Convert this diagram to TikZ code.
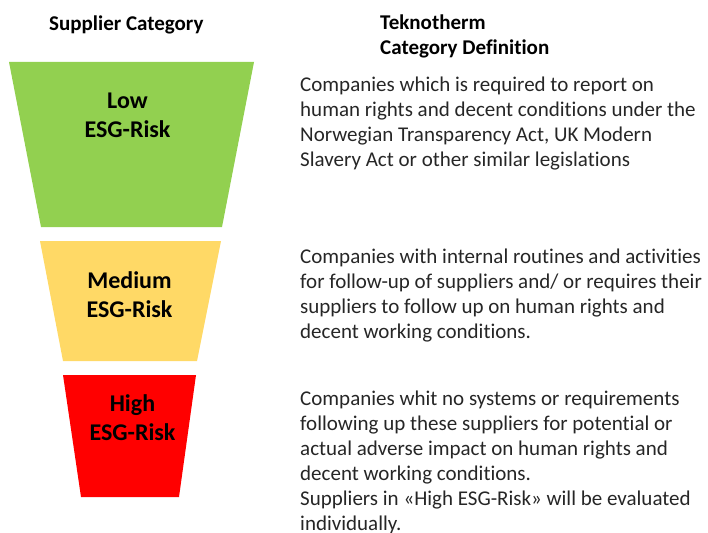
\documentclass[tikz,border=0pt]{standalone}
\usepackage{fontspec}
\setmainfont{Carlito}[Ligatures=NoCommon]
\usepackage{xcolor}
\definecolor{LOWCOLOR}{HTML}{92D050}
\definecolor{MEDCOLOR}{HTML}{FFD966}
\definecolor{HIGHCOLOR}{HTML}{FF0000}
\usetikzlibrary{positioning}
\tikzset{
  head-style/.style = {
    anchor=base west, inner sep=0pt, align=left,
    font=\bfseries\fontsize{21}{25}\selectfont
  },
  level-style/.style = {
    anchor=base, inner sep=0pt, align=center,
    font=\bfseries\fontsize{24}{29}\selectfont
  },
  def-style/.style = {
    anchor=base west, inner sep=0pt, align=left,
    font=\fontsize{21}{25}\selectfont, text=black!85
  },
  band-style/.style = {
    fill=#1
  }
}

\begin{document}
\begin{tikzpicture}[x=1pt,y=-1pt]
    \useasboundingbox (0,0) rectangle (708,532);

    %%% headings
    \node[head-style] (supHead) at (49,31) {Supplier Category};
    \node[head-style] (defHead) at (380,55) {Teknotherm\\Category Definition};

    %%% funnel
    \fill[band-style=LOWCOLOR] (9,62) -- (254,62) -- (222,227) -- (41,227) -- cycle;
    \fill[band-style=MEDCOLOR] (40,241) -- (221,241) -- (197,361) -- (63,361) -- cycle;
    \fill[band-style=HIGHCOLOR] (63,375) -- (196,375) -- (179,497) -- (81,497) -- cycle;

    \node[level-style] (lowRisk) at (127.5,137) {Low\\ESG-Risk};
    \node[level-style] (medRisk) at (129.5,317) {Medium\\ESG-Risk};
    \node[level-style] (highRisk) at (132.5,440) {High\\ESG-Risk};

    %%% definitions
    \node[def-style] (lowDef) at (300,166) {Companies which is required to report on\\
      human rights and decent conditions under the\\
      Norwegian Transparency Act, UK Modern\\
      Slavery Act or other similar legislations};
    \node[def-style] (medDef) at (300,338) {Companies with internal routines and activities\\
      for follow-up of suppliers and/ or requires their\\
      suppliers to follow up on human rights and\\
      decent working conditions.};
    \node[def-style] (highDef) at (300,530) {Companies whit no systems or requirements\\
      following up these suppliers for potential or\\
      actual adverse impact on human rights and\\
      decent working conditions.\\
      Suppliers in «High ESG-Risk» will be evaluated\\
      individually.};
\end{tikzpicture}
\end{document}
